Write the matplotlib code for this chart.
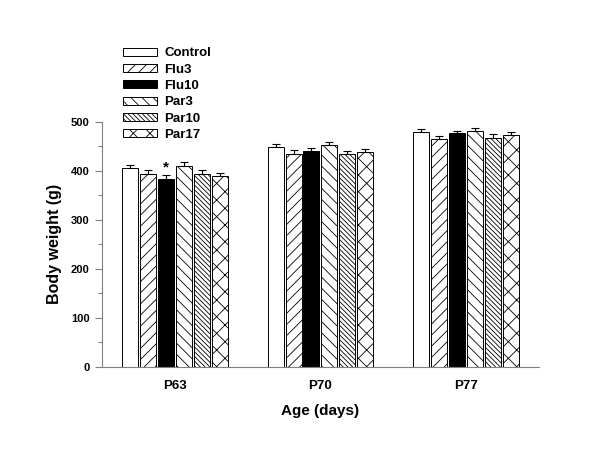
import numpy as np
import matplotlib
matplotlib.use("Agg")
import matplotlib.pyplot as plt

plt.rcParams['font.family'] = ['Liberation Sans', 'DejaVu Sans']
plt.rcParams['font.weight'] = 'bold'
plt.rcParams['hatch.linewidth'] = 0.6

# data
ages = ['P63', 'P70', 'P77']
groups = ['Control', 'Flu3', 'Flu10', 'Par3', 'Par10', 'Par17']
means = {
    'Control': [405, 448, 480],
    'Flu3':    [393, 435, 464],
    'Flu10':   [384, 440, 476],
    'Par3':    [410, 452, 481],
    'Par10':   [394, 434, 467],
    'Par17':   [389, 438, 473],
}
sems = {
    'Control': [6, 6, 6],
    'Flu3':    [8, 7, 7],
    'Flu10':   [7, 7, 6],
    'Par3':    [7, 6, 6],
    'Par10':   [7, 7, 7],
    'Par17':   [7, 7, 7],
}

fills = ['white', 'white', 'black', 'white', 'white', 'white']
hatches = [None, '///', None, '\\\\\\', '\\' * 7, 'xx']

fig = plt.figure(figsize=(6.0, 4.63), dpi=100)
ax = fig.add_axes([0.17, 0.2073, 0.728, 0.5298])

x = np.arange(len(ages))
pitch = 0.123
width = 0.11
handles = []
for i, g in enumerate(groups):
    pos = x + (i - 2.5) * pitch
    b = ax.bar(pos, means[g], width, color=fills[i], edgecolor='black',
               linewidth=0.7, hatch=hatches[i], label=g, zorder=2)
    handles.append(b)
    ax.errorbar(pos, means[g], yerr=[np.zeros(3), sems[g]], fmt='none',
                ecolor='black', elinewidth=0.8, capsize=3, capthick=0.8, zorder=3)

# significance mark on Flu10 at P63
ax.text(0 + (2 - 2.5) * pitch, means['Flu10'][0] + sems['Flu10'][0] + 1, '*',
        ha='center', va='bottom', fontsize=11, fontweight='bold')

ax.set_xlim(-0.5, 2.5)
ax.set_ylim(0, 500)
ax.set_xticks(x)
ax.set_xticklabels(ages, fontsize=9.5, fontweight='bold')
ax.set_yticks(np.arange(0, 501, 100))
ax.set_yticks(np.arange(50, 500, 100), minor=True)
ax.tick_params(axis='y', which='major', length=5, width=0.8, color='#808080',
               labelsize=8, pad=4)
ax.tick_params(axis='y', which='minor', length=3, width=0.8, color='#808080')
ax.tick_params(axis='x', length=0, pad=9)
for s in ['top', 'right']:
    ax.spines[s].set_visible(False)
for s in ['left', 'bottom']:
    ax.spines[s].set_color('#808080')
    ax.spines[s].set_linewidth(0.8)

ax.set_ylabel('Body weight (g)', fontsize=11.5, fontweight='bold', labelpad=6)
ax.set_xlabel('Age (days)', fontsize=11, fontweight='bold', labelpad=9)

fig.legend(handles=handles, labels=groups, loc='upper left',
           bbox_to_anchor=(0.205, 0.898), frameon=False,
           handlelength=2.6, handleheight=0.55, labelspacing=0.33,
           handletextpad=0.55, borderaxespad=0, borderpad=0,
           prop={'weight': 'bold', 'size': 9.5})

fig.savefig('out.png', dpi=100)
